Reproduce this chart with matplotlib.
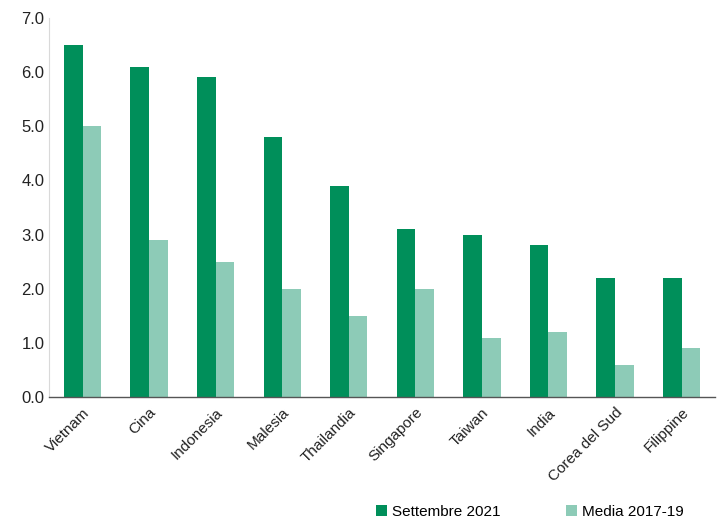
import matplotlib
matplotlib.use("Agg")
import matplotlib.pyplot as plt
import numpy as np

plt.rcParams['font.family'] = ['Liberation Sans', 'DejaVu Sans']

paesi = ['Vietnam', 'Cina', 'Indonesia', 'Malesia', 'Thailandia', 'Singapore',
         'Taiwan', 'India', 'Corea del Sud', 'Filippine']
sett_2021 = [6.5, 6.1, 5.9, 4.8, 3.9, 3.1, 3.0, 2.8, 2.2, 2.2]
media_1719 = [5.0, 2.9, 2.5, 2.0, 1.5, 2.0, 1.1, 1.2, 0.6, 0.9]
yticks = [0, 1, 2, 3, 4, 5, 6, 7]

verde_scuro = '#008f5a'
verde_chiaro = '#8dcbb7'

fig = plt.figure(figsize=(7.25, 5.26), dpi=100)
ax = fig.add_axes([0.068, 0.245, 0.918, 0.721])

x = np.arange(len(paesi))
w = 0.28
ax.bar(x - w/2, sett_2021, w, color=verde_scuro, label='Settembre 2021')
ax.bar(x + w/2, media_1719, w, color=verde_chiaro, label='Media 2017-19')

ax.set_xlim(-0.5, len(paesi) - 0.5)
ax.set_ylim(0, 7)
ax.set_yticks(yticks)
ax.set_yticklabels([f'{v:.1f}' for v in yticks])
ax.set_xticks(x)
ax.set_xticklabels(paesi, rotation=45, ha='right', rotation_mode='anchor')
ax.tick_params(axis='y', length=0, labelsize=12, colors='#222222')
ax.tick_params(axis='x', length=0, labelsize=11, colors='#222222', pad=6)

for s in ['top', 'right']:
    ax.spines[s].set_visible(False)
ax.spines['left'].set_color('#d9d9d9')
ax.spines['left'].set_linewidth(0.8)
ax.spines['bottom'].set_color('#555555')
ax.spines['bottom'].set_linewidth(1.0)

fig.legend(loc='lower right', bbox_to_anchor=(0.962, -0.012), ncol=2, frameon=False,
           fontsize=11, handlelength=0.75, handleheight=0.75, handletextpad=0.3,
           columnspacing=4.3)

fig.savefig('out.png', dpi=100)
